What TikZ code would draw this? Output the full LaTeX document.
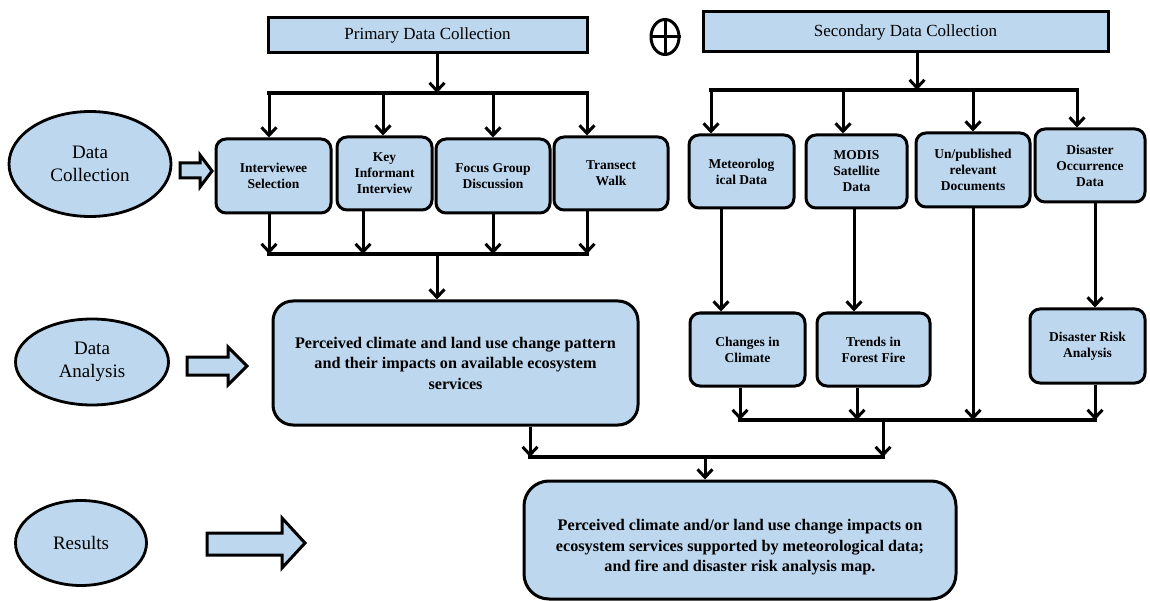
\documentclass[tikz,border=0pt]{standalone}
\usepackage{fontspec}
\setmainfont{Liberation Serif}
\usetikzlibrary{arrows.meta,shapes.geometric}
\definecolor{boxblue}{RGB}{189,215,238}
\begin{document}
\begin{tikzpicture}[x=1pt,y=-1pt,
  box/.style={draw, line width=3pt, fill=boxblue, rounded corners=10pt, align=center, inner sep=2pt, font=\fontsize{13.5}{16}\selectfont\bfseries},
  headbox/.style={draw, line width=3pt, fill=boxblue, align=center, inner sep=0pt, font=\fontsize{17}{19}\selectfont},
  oval/.style={ellipse, draw, line width=2.8pt, fill=boxblue, align=center, inner sep=0pt, font=\fontsize{19}{22.5}\selectfont},
  bigbox/.style={draw, line width=3pt, fill=boxblue, align=center, inner sep=0pt, font=\fontsize{16.2}{20.5}\selectfont\bfseries},
  conn/.style={line width=3pt, -{Straight Barb[length=8pt,width=15pt]}},
  bus/.style={line width=4pt, line cap=rect},
  hollow/.style={draw, line width=3pt, fill=boxblue, line join=miter}
]
\useasboundingbox (0,0) rectangle (1150,601);

% header boxes
\node[headbox, minimum width=319pt, minimum height=35pt] (prim) at (427.5,35.5) {Primary Data Collection};
\node[headbox, minimum width=405pt, minimum height=40pt] (sec) at (905.5,32) {Secondary Data Collection};
\node[ellipse, draw, line width=3pt, minimum width=28pt, minimum height=35pt, inner sep=0pt] (plus) at (665,37) {};
\draw[line width=3pt] (plus.north) -- (plus.south) (plus.west) -- (plus.east);

% left ovals
\node[oval, minimum width=162pt, minimum height=105pt] (dc) at (90,164) {Data\\Collection};
\node[oval, minimum width=153pt, minimum height=86pt] (da) at (92,362) {Data\\Analysis};
\node[oval, minimum width=131pt, minimum height=85pt] (res) at (81,543) {Results};

% hollow arrows
\draw[hollow] (180,163) -- (200,163) -- (200,155) -- (212,171) -- (200,187) -- (200,178) -- (180,178) -- cycle;
\draw[hollow] (187,357) -- (228,357) -- (228,347) -- (247,366) -- (228,385) -- (228,375) -- (187,375) -- cycle;
\draw[hollow] (207,533) -- (282,533) -- (282,518) -- (305,543) -- (282,568) -- (282,555) -- (207,555) -- cycle;

% primary boxes
\node[box, minimum width=115pt, minimum height=74pt] (b1) at (273.5,176) {Interviewee\\Selection};
\node[box, minimum width=95pt, minimum height=73pt] (b2) at (384.5,173.5) {Key\\Informant\\Interview};
\node[box, minimum width=114pt, minimum height=74pt] (b3) at (493,176) {Focus Group\\Discussion};
\node[box, minimum width=114pt, minimum height=73pt] (b4) at (611,173.5) {Transect\\Walk};

% secondary boxes
\node[box, minimum width=105pt, minimum height=73pt] (m1) at (741.5,171.5) {Meteorolog\\ical Data};
\node[box, minimum width=101pt, minimum height=73pt] (m2) at (856.5,171.5) {MODIS\\Satellite\\Data};
\node[box, minimum width=114pt, minimum height=74pt] (m3) at (973,170) {Un/published\\relevant\\Documents};
\node[box, minimum width=110pt, minimum height=73pt] (m4) at (1090,165.5) {Disaster\\Occurrence\\Data};

\node[box, minimum width=115pt, minimum height=73pt] (c1) at (747.5,349.5) {Changes in\\Climate};
\node[box, minimum width=113pt, minimum height=73pt] (c2) at (873.5,349.5) {Trends in\\Forest Fire};
\node[box, minimum width=115pt, minimum height=74pt] (c3) at (1087.5,346) {Disaster Risk\\Analysis};

% big boxes
\node[bigbox, rounded corners=20pt, minimum width=365pt, minimum height=124pt] (perc) at (455.5,363)
  {Perceived climate and land use change pattern\\and their impacts on available ecosystem\\services};
\node[bigbox, rounded corners=25pt, minimum width=432pt, minimum height=118pt] (fin) at (740,540)
  {\rule{0pt}{26pt}Perceived climate and/or land use change impacts on\\ecosystem services supported by meteorological data;\\and fire and disaster risk analysis map.};

% bus coordinates
\coordinate (tb1) at (269,93); \coordinate (tb2) at (383,93); \coordinate (tb3) at (493,93); \coordinate (tb4) at (587,93); \coordinate (tbm) at (437,93);
\coordinate (bb1) at (269,254); \coordinate (bb2) at (363,254); \coordinate (bb3) at (493,254); \coordinate (bb4) at (587,254); \coordinate (bbm) at (437,254);
\coordinate (st1) at (711,90); \coordinate (st2) at (843,90); \coordinate (st3) at (973,90); \coordinate (st4) at (1077,90); \coordinate (stm) at (917,90);
\coordinate (v1) at (721,0); \coordinate (v2) at (854,0); \coordinate (v4) at (1095,0);
\coordinate (rb1) at (740,420); \coordinate (rb2) at (857,420); \coordinate (rb3) at (973,420); \coordinate (rb4) at (1095,420); \coordinate (rbm) at (883,420);
\coordinate (lb1) at (530,457); \coordinate (lb2) at (883,457); \coordinate (lbm) at (705,457);

% primary connectors
\draw[conn] (prim.south -| tbm) -- (tbm);
\draw[bus] (tb1) -- (tb4);
\foreach \c/\b in {tb1/b1, tb2/b2, tb3/b3, tb4/b4} \draw[conn] (\c) -- (\c |- \b.north);
\foreach \c/\b in {bb1/b1, bb2/b2, bb3/b3, bb4/b4} \draw[conn] (\b.south -| \c) -- (\c);
\draw[bus] (bb1) -- (bb4);
\draw[conn] (bbm) -- (perc.north -| bbm);

% secondary connectors
\draw[conn] (sec.south -| stm) -- (stm);
\draw[bus] (st1) -- (st4);
\foreach \c/\b in {st1/m1, st2/m2, st3/m3, st4/m4} \draw[conn] (\c) -- (\c |- \b.north);
\draw[conn] (m1.south -| v1) -- (c1.north -| v1);
\draw[conn] (m2.south -| v2) -- (c2.north -| v2);
\draw[conn] (m4.south -| v4) -- (c3.north -| v4);
\draw[conn] (m3.south -| rb3) -- (rb3);
\draw[conn] (c1.south -| rb1) -- (rb1);
\draw[conn] (c2.south -| rb2) -- (rb2);
\draw[conn] (c3.south -| rb4) -- (rb4);
\draw[bus] (rb1) -- (rb4);
\draw[conn] (rbm) -- (lb2);
\draw[conn] (perc.south -| lb1) -- (lb1);
\draw[bus] (lb1) -- (lb2);
\draw[conn] (lbm) -- (fin.north -| lbm);
\end{tikzpicture}
\end{document}
